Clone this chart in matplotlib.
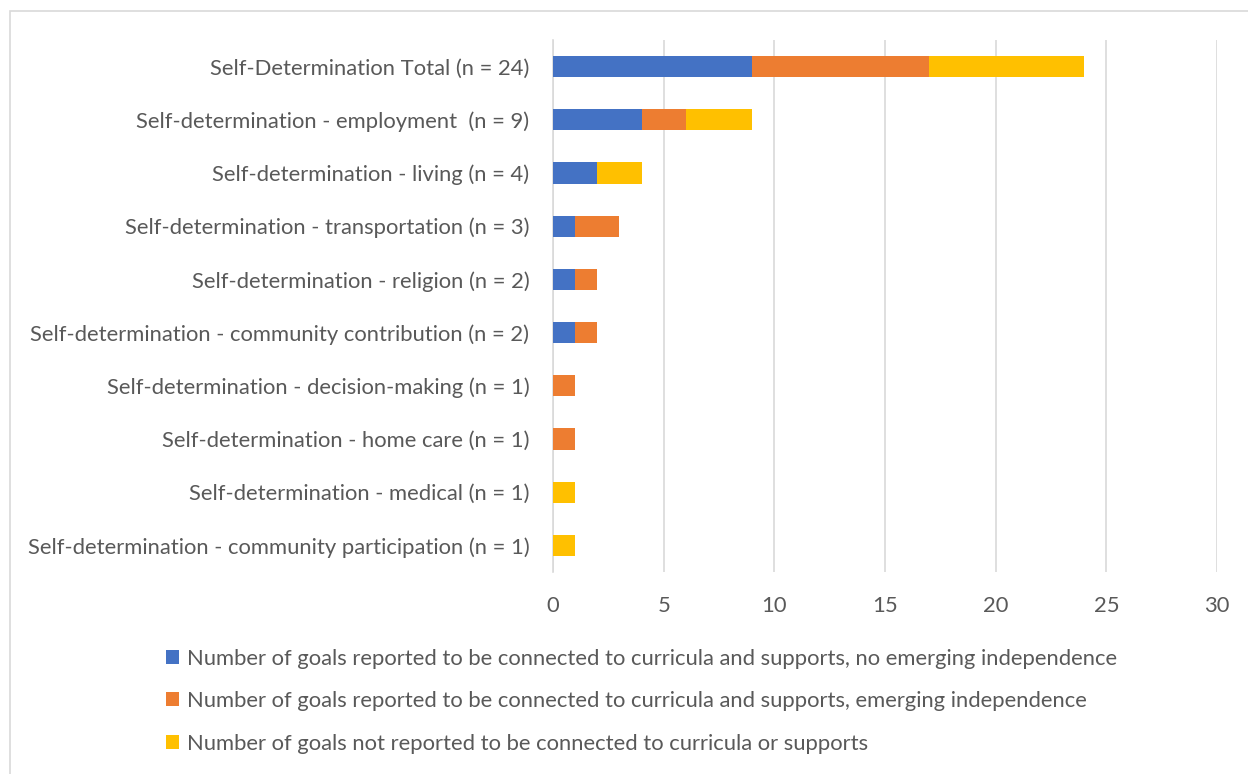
import matplotlib.pyplot as plt
from matplotlib.patches import Rectangle

categories = [
    "Self-Determination Total (n = 24)",
    "Self-determination - employment  (n = 9)",
    "Self-determination - living (n = 4)",
    "Self-determination - transportation (n = 3)",
    "Self-determination - religion (n = 2)",
    "Self-determination - community contribution (n = 2)",
    "Self-determination - decision-making (n = 1)",
    "Self-determination - home care (n = 1)",
    "Self-determination - medical (n = 1)",
    "Self-determination - community participation (n = 1)",
]
no_emerging = [9, 4, 2, 1, 1, 1, 0, 0, 0, 0]
emerging = [8, 2, 0, 2, 1, 1, 1, 1, 0, 0]
not_connected = [7, 3, 2, 0, 0, 0, 0, 0, 1, 1]
series_names = [
    "Number of goals reported to be connected to curricula and supports, no emerging independence",
    "Number of goals reported to be connected to curricula and supports, emerging independence",
    "Number of goals not reported to be connected to curricula or supports",
]
colors = ["#4472C4", "#ED7D31", "#FFC000"]
text_color = "#595959"

plt.rcParams['font.family'] = ['Lato', 'DejaVu Sans']
fs = 15.8

fig = plt.figure(figsize=(12.48, 7.74), dpi=100)
ax = fig.add_axes([553 / 1248, 1 - 572 / 774, (1217 - 553) / 1248, (572 - 40) / 774])

# outer chart frame
fig.patches.append(Rectangle((10 / 1248, -0.01), 1.0, 1 - 11 / 774 + 0.01,
                             transform=fig.transFigure, fill=False,
                             edgecolor="#D9D9D9", linewidth=1.2))

y = list(range(len(categories)))
left = [0] * len(categories)
for vals, name, c in zip([no_emerging, emerging, not_connected], series_names, colors):
    ax.barh(y, vals, left=left, height=0.4, color=c, label=name, zorder=3)
    left = [a + b for a, b in zip(left, vals)]

ax.set_ylim(len(categories) - 0.5, -0.5)
ax.set_xlim(0, 30)
ax.set_xticks(range(0, 31, 5))
ax.set_yticks(y)
ax.set_yticklabels(categories)
ax.tick_params(axis='both', length=0, labelsize=fs, colors=text_color)
ax.tick_params(axis='y', pad=17)
ax.tick_params(axis='x', pad=17)
ax.grid(axis='x', color="#D9D9D9", linewidth=1.2, zorder=0)
for s in ['top', 'right', 'bottom']:
    ax.spines[s].set_visible(False)
ax.spines['left'].set_color("#D9D9D9")
ax.spines['left'].set_linewidth(1.2)

fig.legend(loc='upper left', bbox_to_anchor=(146 / 1248, 1 - 629 / 774),
           frameon=False, fontsize=fs, labelcolor=text_color,
           handlelength=0.6, handleheight=0.6, handletextpad=0.35,
           labelspacing=1.02)

fig.savefig("out.png", dpi=100)
